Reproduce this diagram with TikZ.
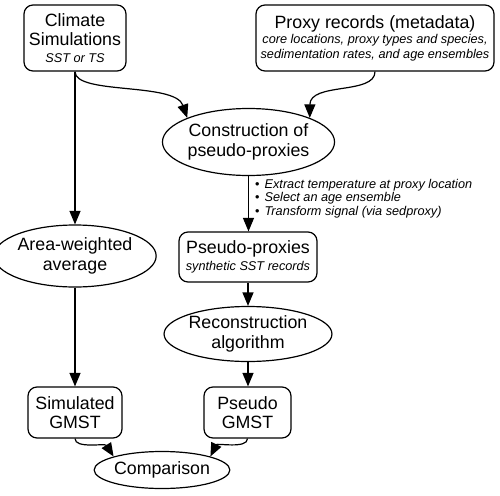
\documentclass[tikz,border=0pt]{standalone}
\usepackage{fontspec}
\setmainfont{Liberation Sans}
\usetikzlibrary{arrows.meta,shapes.geometric}
\newcommand\subfnt{\fontsize{12.7}{14}\selectfont\itshape}
\tikzset{
  base/.style={draw, line width=1.2pt, inner sep=0pt, align=center,
    font=\fontsize{17.8}{19.5}\selectfont},
  rbox/.style={base, rectangle, rounded corners=9pt},
  oval/.style={base, ellipse},
  arr/.style={line width=1.2pt, -{Triangle[length=13.5pt,width=11pt]}},
}
\begin{document}
\begin{tikzpicture}[x=1pt,y=-1pt]
\useasboundingbox (0,0) rectangle (500,495);
\node[rbox, minimum width=102pt, minimum height=66pt] (clim) at (75,38)
  {Climate\\Simulations\\[-3pt]{\subfnt SST or TS}};
\node[rbox, minimum width=238pt, minimum height=66pt] (prox) at (375,38)
  {Proxy records (metadata)\\[-4pt]{\subfnt core locations, proxy types and species,}\\[-5pt]{\subfnt sedimentation rates, and age ensembles}};
\node[oval, minimum width=158pt, minimum height=67pt] (cons) at (248.5,142)
  {Construction of\\pseudo-proxies};
\node[oval, minimum width=138pt, minimum height=62pt] (area) at (75,256)
  {Area-weighted\\average};
\node[rbox, minimum width=138pt, minimum height=50pt] (pp) at (248,257)
  {Pseudo-proxies\\[-3pt]{\subfnt synthetic SST records}};
\node[oval, minimum width=160pt, minimum height=55pt] (rec) at (248,334)
  {Reconstruction\\algorithm};
\node[rbox, minimum width=94pt, minimum height=51pt] (sim) at (75,412.5)
  {Simulated\\GMST};
\node[rbox, minimum width=87pt, minimum height=51pt] (pg) at (247.5,412.5)
  {Pseudo\\GMST};
\node[oval, minimum width=110pt, minimum height=37pt] (comp) at (162,470)
  {Comparison};
\node[anchor=north west, inner sep=0pt, font=\fontsize{12.7}{14}\selectfont] (steps) at (255,178)
  {\begin{tabular}{@{}l@{\hspace{5pt}}l@{}}
   \textbullet & \itshape Extract temperature at proxy location\\[-0.5pt]
   \textbullet & \itshape Select an age ensemble\\[-0.5pt]
   \textbullet & \itshape Transform signal (via sedproxy)
   \end{tabular}};
\draw[arr] (clim.south) .. controls (75,95) and (175,82) .. (cons.north west);
\draw[arr] (prox.south) .. controls (375,95) and (310,82) .. (cons.north east);
\draw[arr] (clim.south) -- (area.north);
\draw[arr] (area.south) -- (sim.north);
\draw[arr] (cons.south) -- (cons.south |- pp.north);
\draw[arr] (pp.south) -- (pp.south |- rec.north);
\draw[arr] (rec.south) -- (rec.south |- pg.north);
\draw[arr] (sim.south) .. controls (75,449) and (105,443) .. (comp.north west);
\draw[arr] (pg.south) .. controls (247.5,449) and (217,443) .. (comp.north east);
\end{tikzpicture}
\end{document}
